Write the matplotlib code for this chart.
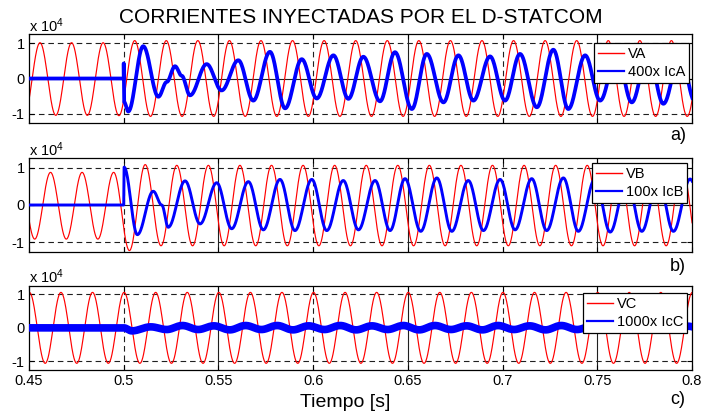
import numpy as np
import matplotlib
matplotlib.use("Agg")
import matplotlib.pyplot as plt

plt.rcParams["font.family"] = ["Liberation Sans", "DejaVu Sans"]
plt.rcParams["mathtext.fontset"] = "custom"
plt.rcParams["mathtext.rm"] = "Liberation Sans"
plt.rcParams["mathtext.default"] = "regular"

# ---------------------------------------------------------------- data
# All amplitudes are in units of 10^4.
F_HZ = 60.0
T_START, T_END = 0.45, 0.80

# Phase voltages: extremes alternating every half cycle, starting at *_t0
va_t0 = 0.44747
va_ext = [-1.05, 1.02, -1.05, 1.02, -1.05, 1.02, -1.06,
          1.08, -1.08, 1.08, -1.08, 1.08, -1.08, 1.08, -1.08, 1.08, -1.08,
          1.08, -1.08, 1.08, -1.08, 1.08, -1.08, 1.08, -1.08, 1.08, -1.08,
          1.08, -1.08, 1.08, -1.08, 1.08, -1.08, 1.08, -1.08, 1.08, -1.08,
          1.08, -1.08, 1.08, -1.08, 1.08, -1.08, 1.08]

vb_t0 = 0.44469
vb_ext = [0.88, -0.92, 0.88, -0.92, 0.88, -0.92, 0.88,
          -1.23, 1.09, -1.10, 1.07, -1.10, 1.07, -1.10, 1.07, -1.10, 1.07,
          -1.10, 1.07, -1.10, 1.07, -1.10, 1.07, -1.10, 1.07, -1.10, 1.07,
          -1.10, 1.07, -1.10, 1.07, -1.10, 1.07, -1.10, 1.07, -1.10, 1.07,
          -1.10, 1.07, -1.10, 1.07, -1.10, 1.07, -1.10]

vc_t0 = 0.44187
vc_ext = [-1.06, 1.06, -1.06, 1.06, -1.06, 1.06, -1.06, 1.06, -1.06,
          1.06, -1.06, 1.06, -1.06, 1.06, -1.06, 1.06, -1.06, 1.06, -1.06,
          1.06, -1.06, 1.06, -1.06, 1.06, -1.06, 1.06, -1.06, 1.06, -1.06,
          1.06, -1.06, 1.06, -1.06, 1.06, -1.06, 1.06, -1.06, 1.06, -1.06,
          1.06, -1.06, 1.06, -1.06, 1.06, -1.06]

# Injected currents (scaled): time of each turning point and its value
ica_t = [0.45, 0.5, 0.5, 0.5002, 0.5024, 0.5103, 0.5183, 0.5227, 0.5271,
         0.5306, 0.535, 0.5438, 0.5517, 0.5605, 0.5684, 0.5772, 0.5852,
         0.594, 0.6019, 0.6107, 0.6186, 0.6265, 0.6353, 0.6432, 0.6521,
         0.66, 0.6688, 0.6767, 0.6846, 0.6934, 0.7013, 0.7092, 0.7181,
         0.7268, 0.7347, 0.7436, 0.7515, 0.7603, 0.7682, 0.7768, 0.7849,
         0.7937, 0.8016]
ica_v = [0, 0, 0.43, -0.67, -0.94, 0.92, -0.52, -0.10, 0.35, 0.08, -0.48,
         0.41, -0.34, 0.52, -0.63, 0.76, -0.85, 0.55, -0.57, 0.66, -0.58,
         0.62, -0.65, 0.75, -0.87, 0.70, -0.68, 0.66, -0.63, 0.63, -0.63,
         0.70, -0.82, 0.82, -0.87, 0.66, -0.63, 0.68, -0.68, 0.72, -0.72,
         0.68, -0.66]

icb_t = [0.45, 0.5, 0.5002, 0.5072, 0.5156, 0.5201, 0.5235, 0.5324, 0.5403,
         0.5491, 0.557, 0.5658, 0.5737, 0.5825, 0.5904, 0.5993, 0.6072,
         0.6159, 0.6239, 0.6327, 0.6406, 0.6485, 0.6568, 0.6653, 0.6732,
         0.6819, 0.6899, 0.6987, 0.7066, 0.7154, 0.7233, 0.7321, 0.74,
         0.7488, 0.7568, 0.7656, 0.7735, 0.7821, 0.7902, 0.799, 0.8072]
icb_v = [0, 0, 1.02, -0.80, 0.37, 0.0, -0.60, 0.65, -0.51, 0.60, -0.64,
         0.63, -0.67, 0.69, -0.69, 0.69, -0.69, 0.66, -0.67, 0.66, -0.69,
         0.71, -0.71, 0.73, -0.71, 0.66, -0.69, 0.69, -0.67, 0.71, -0.69,
         0.73, -0.71, 0.70, -0.73, 0.70, -0.71, 0.70, -0.71, 0.70, -0.70]

icc_t = [0.45, 0.5, 0.5043, 0.5143, 0.5227, 0.531, 0.5393, 0.5476, 0.556,
         0.5643, 0.5727, 0.581, 0.5893, 0.5976, 0.606, 0.6143, 0.6227,
         0.631, 0.6393, 0.6476, 0.656, 0.6643, 0.6727, 0.681, 0.6893,
         0.6976, 0.706, 0.7143, 0.7227, 0.731, 0.7393, 0.7476, 0.756,
         0.7643, 0.7727, 0.781, 0.7893, 0.7976, 0.806]
icc_v = [0, 0, -0.09, 0.03, -0.05, 0.07, -0.05, 0.06, -0.06, 0.07, -0.05,
         0.07, -0.06, 0.06, -0.05, 0.07, -0.06, 0.06, -0.05, 0.07, -0.06,
         0.07, -0.05, 0.06, -0.06, 0.07, -0.05, 0.06, -0.06, 0.07, -0.05,
         0.06, -0.06, 0.06, -0.05, 0.06, -0.05, 0.05, -0.04]

labels_v = ["VA", "VB", "VC"]
labels_i = ["400x IcA", "100x IcB", "1000x IcC"]
panel_tags = ["a)", "b)", "c)"]
x_ticks = [0.45, 0.5, 0.55, 0.6, 0.65, 0.7, 0.75, 0.8]
x_tick_labels = ["0.45", "0.5", "0.55", "0.6", "0.65", "0.7", "0.75", "0.8"]
y_ticks = [-1, 0, 1]
y_tick_labels = ["-1", "0", "1"]


def waveform(times, values, n=40):
    """Smooth curve through turning points using half-cosine segments."""
    ts, vs = [times[0]], [values[0]]
    for t0, v0, t1, v1 in zip(times[:-1], values[:-1], times[1:], values[1:]):
        if t1 - t0 < 5e-4:
            ts.append(t1)
            vs.append(v1)
            continue
        s = np.linspace(0, 1, n)[1:]
        ts.extend(t0 + (t1 - t0) * s)
        vs.extend(v0 + (v1 - v0) * (1 - np.cos(np.pi * s)) / 2)
    return np.array(ts), np.array(vs)


def ext_times(t0, ext):
    return t0 + np.arange(len(ext)) / (2 * F_HZ)


voltages = [(va_t0, va_ext), (vb_t0, vb_ext), (vc_t0, vc_ext)]
currents = [(ica_t, ica_v), (icb_t, icb_v), (icc_t, icc_v)]

# ---------------------------------------------------------------- figure
W, H = 706, 416
fig = plt.figure(figsize=(W / 100, H / 100), dpi=100)

# axes boxes in pixels: (left, top, right, bottom)
boxes = [(29, 34.3, 692, 122.7), (29, 158.3, 692, 251.7), (29, 285.7, 692, 370)]
blue_lw = [2.7, 2.1, 5.5]
legend_anchor = [(0.996, 0.905), (0.993, 0.953), (0.993, 0.917)]
tag_baseline = [140, 271, 404]

for i, (l, t, r, b) in enumerate(boxes):
    ax = fig.add_axes([l / W, 1 - b / H, (r - l) / W, (b - t) / H])
    ax.set_xlim(T_START, T_END)
    ax.set_ylim(-1.26, 1.26)

    # grid
    for yv in y_ticks:
        if yv == 0:
            ax.axhline(yv, color="#202020", lw=0.8, zorder=0.5)
        else:
            ax.axhline(yv, color="#202020", lw=0.8, ls=(0, (5, 3.5)), zorder=0.5)
    for k, xv in enumerate(x_ticks[1:-1]):
        if k % 2 == 0:
            ax.axvline(xv, color="#202020", lw=0.8, ls=(0, (5, 3.5)), zorder=0.5)
        else:
            ax.axvline(xv, color="#202020", lw=0.8, zorder=0.5)

    vt0, vext = voltages[i]
    tv, vv = waveform(ext_times(vt0, vext), vext)
    ax.plot(tv, vv, color="#ff0000", lw=0.85, label=labels_v[i], zorder=2)

    ct, cv = currents[i]
    ti, vi = waveform(ct, cv)
    ax.plot(ti, vi, color="#0000ff", lw=blue_lw[i], label=labels_i[i],
            zorder=3, solid_joinstyle="round")

    ax.set_xticks(x_ticks)
    ax.set_yticks(y_ticks)
    ax.set_yticklabels(y_tick_labels)
    if i == 2:
        ax.set_xticklabels(x_tick_labels)
    else:
        ax.set_xticklabels([])
    ax.tick_params(direction="in", length=3.5, width=0.8, labelsize=10.5,
                   top=True, right=True, pad=3, colors="black")
    for sp in ax.spines.values():
        sp.set_linewidth(0.9)
        sp.set_color("black")

    leg = ax.legend(loc="upper right", bbox_to_anchor=legend_anchor[i],
                    borderaxespad=0, fontsize=10.5, frameon=True,
                    fancybox=False, framealpha=1, edgecolor="black",
                    handlelength=1.75, handletextpad=0.25, borderpad=0.3,
                    labelspacing=0.25)
    leg.get_frame().set_linewidth(0.9)
    leg.set_zorder(5)
    for h, w in zip(leg.legend_handles, [1.0, 1.6]):
        h.set_linewidth(w)

    ax.annotate(r"x 10$^{4}$", xy=(0, 1), xycoords="axes fraction",
                xytext=(0, 2), textcoords="offset points",
                ha="left", va="baseline", fontsize=10.5)

    fig.text(670 / W, 1 - tag_baseline[i] / H, panel_tags[i],
             ha="left", va="baseline", fontsize=13)

fig.text(360.5 / W, 1 - 23.3 / H, "CORRIENTES INYECTADAS POR EL D-STATCOM",
         ha="center", va="baseline", fontsize=15)
fig.text(345 / W, 1 - 407.3 / H, "Tiempo [s]", ha="center", va="baseline",
         fontsize=14)

fig.savefig("out.png", dpi=100)
